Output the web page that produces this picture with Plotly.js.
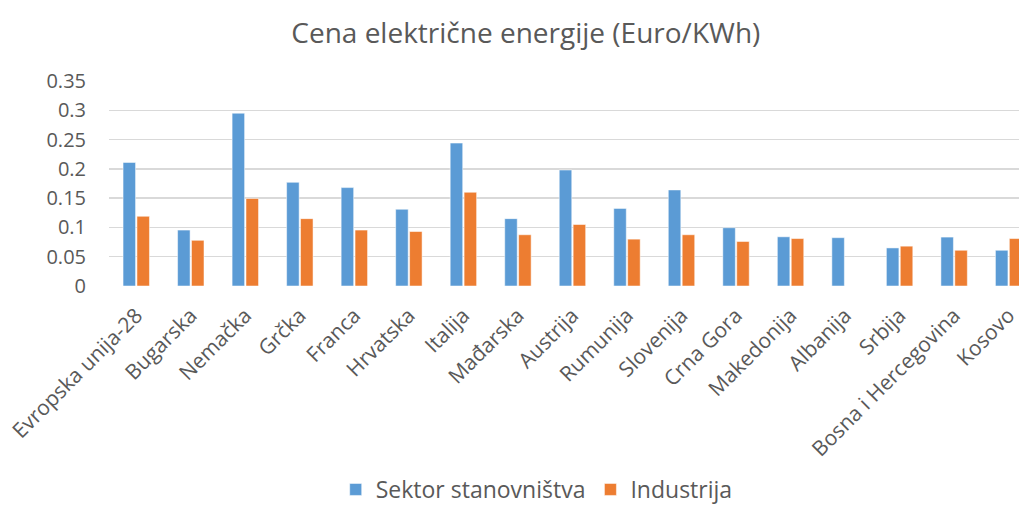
<!DOCTYPE html>
<html>
<head>
<meta charset="utf-8">
<script src="https://cdn.plot.ly/plotly-3.0.1.min.js"></script>
<style>html,body{margin:0;padding:0;background:#fff;}#chart{width:1019px;height:511px;}</style>
</head>
<body>
<div id="chart"></div>
<script>
const categories = ["Evropska unija-28","Bugarska","Nemačka","Grčka","Franca","Hrvatska","Italija","Mađarska","Austrija","Rumunija","Slovenija","Crna Gora","Makedonija","Albanija","Srbija","Bosna i Hercegovina","Kosovo"];
const household = [0.211,0.0955,0.295,0.177,0.168,0.131,0.244,0.115,0.198,0.1325,0.164,0.0995,0.084,0.0825,0.065,0.0835,0.061];
const industry = [0.119,0.078,0.1495,0.115,0.0955,0.093,0.160,0.0875,0.105,0.080,0.0875,0.076,0.081,null,0.068,0.061,0.081];
const yTicks = [0,0.05,0.1,0.15,0.2,0.25,0.3,0.35];
const yTickText = ["0","0.05","0.1","0.15","0.2","0.25","0.3","0.35"];

const font = {family: "Open Sans, sans-serif", color: "#595959"};
const traces = [
  {type:"bar", name:"Sektor stanovništva", x:categories, y:household,
   marker:{color:"#5b9bd5", line:{color:"rgba(255,255,255,0.5)", width:1}}},
  {type:"bar", name:"Industrija", x:categories, y:industry,
   marker:{color:"#ed7d31", line:{color:"rgba(255,255,255,0.5)", width:1}}}
];
const layout = {
  width:1019, height:511,
  margin:{l:109, r:0, t:81, b:225},
  paper_bgcolor:"#fff", plot_bgcolor:"#fff",
  font: Object.assign({size:21}, font),
  title:{text:"Cena električne energije (Euro/KWh)", font:Object.assign({size:28}, font), x:0.516, xanchor:"center", y:0.935, yanchor:"middle"},
  barmode:"group", bargap:0.49, bargroupgap:0.1,
  xaxis:{type:"category", range:[-0.5, 16.19], tickangle:-45, showgrid:false, zeroline:false,
         showline:false, ticks:"", ticklabelstandoff:12, tickfont:Object.assign({size:21}, font), automargin:false},
  yaxis:{range:[0,0.35], tickvals:yTicks, ticktext:yTickText, showgrid:true, gridcolor:"#d9d9d9", gridwidth:1.5,
         zeroline:false, showline:false, ticks:"", ticklabelstandoff:22, tickfont:Object.assign({size:20}, font), automargin:false},
  showlegend:true,
  legend:{orientation:"h", xref:"paper", x:0.47, xanchor:"center", yref:"container", y:-0.016, yanchor:"bottom",
          font:Object.assign({size:23}, font), itemwidth:30, traceorder:"normal"}
};
Plotly.newPlot("chart", traces, layout, {displayModeBar:false, staticPlot:true});
</script>
</body>
</html>
